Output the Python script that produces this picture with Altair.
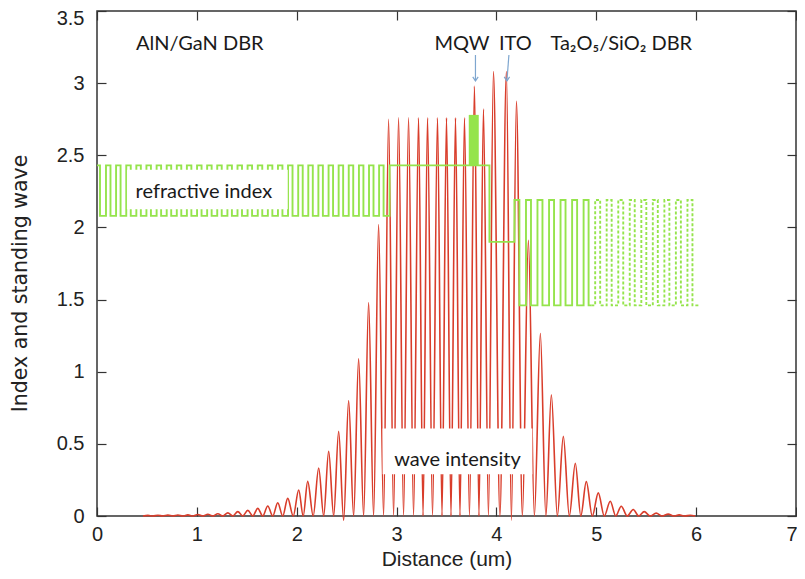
import altair as alt
import pandas as pd

# ---------------- wave intensity (standing wave): peaks / troughs
peak_x = [0.51, 0.61, 0.71, 0.81, 0.91, 1.01, 1.11, 1.21, 1.31, 1.41, 1.51, 1.61, 1.71, 1.81, 1.91,
          2.02, 2.11, 2.22, 2.32, 2.42, 2.52, 2.62, 2.72, 2.82, 2.92,
          3.02, 3.12, 3.22, 3.31, 3.41, 3.50, 3.59, 3.68,
          3.78, 3.87, 3.97, 4.10, 4.20,
          4.32, 4.44, 4.55, 4.67, 4.79, 4.90, 5.02, 5.14, 5.25, 5.37, 5.48, 5.60, 5.72, 5.83, 5.94]
peak_y = [0.004, 0.005, 0.006, 0.007, 0.008, 0.010, 0.012, 0.016, 0.022, 0.030, 0.039, 0.053, 0.069, 0.092, 0.122,
          0.18, 0.24, 0.333, 0.449, 0.587, 0.80, 1.09, 1.48, 2.02, 2.75,
          2.76, 2.76, 2.76, 2.76, 2.76, 2.76, 2.76, 2.76,
          2.98, 2.82, 3.08, 3.08, 2.875,
          1.91, 1.265, 0.84, 0.552, 0.366, 0.238, 0.16, 0.102, 0.068, 0.045, 0.03, 0.02, 0.013, 0.008, 0.005]
trough_x = [0.46, 0.56, 0.66, 0.76, 0.86, 0.96, 1.06, 1.16, 1.26, 1.36, 1.46, 1.56, 1.66, 1.76, 1.86,
            1.965, 2.065, 2.165, 2.27, 2.37, 2.47, 2.57, 2.67, 2.77, 2.87,
            2.97, 3.07, 3.17, 3.265, 3.36, 3.455, 3.545, 3.635,
            3.73, 3.825, 3.92, 4.035, 4.15,
            4.26, 4.38, 4.495, 4.61, 4.73, 4.845, 4.96, 5.08, 5.195, 5.31, 5.425, 5.54, 5.66, 5.775, 5.885, 5.99]
trough_dips = {2.47: -0.03, 4.15: -0.03}

# ---------------- refractive index profile
n_gan, n_aln, n_mqw, n_ito, n_ta, n_sio = 2.43, 2.08, 2.78, 1.90, 2.19, 1.46
first_gan_end = 0.03
gan_starts = [0.090, 0.191, 0.293, 0.394, 0.495, 0.597, 0.698, 0.799, 0.900, 1.002, 1.103, 1.204, 1.306, 1.407,
              1.508, 1.610, 1.711, 1.812, 1.913, 2.015, 2.116, 2.217, 2.319, 2.420, 2.521, 2.623, 2.724, 2.825]
gan_ends = [0.135, 0.236, 0.338, 0.439, 0.540, 0.642, 0.743, 0.844, 0.945, 1.047, 1.148, 1.249, 1.351, 1.452,
            1.553, 1.655, 1.756, 1.857, 1.958, 2.060, 2.161, 2.262, 2.364, 2.465, 2.566, 2.668, 2.769, 2.870]
cavity_start, ito_start, top_dbr_end = 2.93, 3.93, 6.028
ta_starts = [4.180, 4.296, 4.411, 4.527, 4.642, 4.758, 4.873, 4.989, 5.104, 5.220, 5.335, 5.451, 5.566, 5.682, 5.797, 5.913]
ta_ends = [4.230, 4.346, 4.461, 4.577, 4.692, 4.808, 4.923, 5.039, 5.154, 5.270, 5.385, 5.501, 5.616, 5.732, 5.847, 5.963]
mqw_start, mqw_end = 3.723, 3.823
dashed_from = 4.95

x_ticks = [0, 1, 2, 3, 4, 5, 6, 7]
y_ticks = [0, 0.5, 1, 1.5, 2, 2.5, 3, 3.5]

# ---------------- annotations (data coordinates)
labels = ["AlN/GaN DBR", "MQW", "ITO", "Ta\u2082O\u2085/SiO\u2082 DBR", "refractive index", "wave intensity"]
label_x = [1.03, 3.655, 4.19, 5.25, 1.07, 3.61]
label_y = [3.232, 3.232, 3.232, 3.232, 2.204, 0.348]
box_x = [0.30, 2.86]
box_x2 = [1.91, 4.36]
box_y = [2.40, 0.607]
box_y2 = [2.126, 0.29]
arrow_x_top = [3.79, 4.125]
arrow_x_tip = [3.79, 4.105]
arrow_y_top = [3.195, 3.195]
arrow_y_tip = [3.016, 3.016]

RED = "#d93d2b"
GREEN = "#95e44c"
BLUE = "#7ea6cf"
AXC = "#333333"
AXF = "Liberation Sans, Arial, sans-serif"
TXT = "Lato, Open Sans, sans-serif"

# ---------------- tables
wave = pd.DataFrame({
    "x": peak_x + trough_x,
    "y": peak_y + [trough_dips.get(t, 0.0) for t in trough_x],
}).sort_values("x")

pts = [(0.0, n_gan), (first_gan_end, n_aln)]
for s, e in zip(gan_starts, gan_ends):
    pts += [(s, n_gan), (e, n_aln)]
pts += [(cavity_start, n_gan), (ito_start, n_ito)]
for s, e in zip(ta_starts, ta_ends):
    pts += [(s, n_ta), (e, n_sio)]
pts += [(top_dbr_end, n_sio)]
solid = [p for p in pts if p[0] < dashed_from] + [(dashed_from, n_sio)]
dashed = [(dashed_from, n_sio)] + [p for p in pts if p[0] > dashed_from]
idx_solid = pd.DataFrame(solid, columns=["x", "y"])
idx_dashed = pd.DataFrame(dashed, columns=["x", "y"])

mqw = pd.DataFrame({"x": [mqw_start], "x2": [mqw_end], "y": [n_gan], "y2": [n_mqw]})
boxes = pd.DataFrame({"x": box_x, "x2": box_x2, "y": box_y, "y2": box_y2})
texts = pd.DataFrame({"x": label_x, "y": label_y, "t": labels})
arrows = pd.DataFrame({"x": arrow_x_top, "x2": arrow_x_tip, "y": arrow_y_top, "y2": arrow_y_tip})
ticks = pd.DataFrame({"x": x_ticks, "y": y_ticks})

xs = alt.Scale(domain=[0, 7], nice=False, zero=False)
ys = alt.Scale(domain=[0, 3.5], nice=False, zero=False)

x_bottom = alt.Axis(values=x_ticks, orient="bottom", title="Distance (um)", offset=-9, tickSize=9,
                    domain=False, grid=False, labelFlush=False, labelOverlap=False,
                    labelFont=AXF, labelFontSize=20, labelColor="#222", labelPadding=8,
                    labelAlign={"condition": {"test": "datum.value === 7", "value": "right"}, "value": "center"},
                    labelOffset={"condition": {"test": "datum.value === 7", "value": 1}, "value": 0},
                    tickColor=AXC, tickWidth=1.2,
                    titleFont=AXF, titleFontSize=21, titleFontWeight="normal", titleColor="#222",
                    titlePadding=4)
y_left = alt.Axis(values=y_ticks, orient="left", format="~g", title="Index and standing wave", offset=-9,
                  tickSize=9, domain=False, grid=False, labelFlush=False, labelOverlap=False,
                  labelFont=AXF, labelFontSize=20, labelColor="#222", labelPadding=13,
                  labelOffset={"condition": {"test": "datum.value === 3.5", "value": 7}, "value": 0},
                  tickColor=AXC, tickWidth=1.2,
                  titleFont="DejaVu Sans", titleFontSize=20.5, titleFontWeight="normal", titleColor="#222",
                  titlePadding=26, titleY=272)
x_top = alt.Axis(values=x_ticks, orient="top", title=None, labels=False, offset=-9, tickSize=9,
                 domain=False, grid=False, tickColor=AXC, tickWidth=1.2)
y_right = alt.Axis(values=y_ticks, orient="right", title=None, labels=False, offset=-9, tickSize=9,
                   domain=False, grid=False, tickColor=AXC, tickWidth=1.2)


def X(field="x", axis=None):
    return alt.X(f"{field}:Q", scale=xs, axis=axis)


def Y(field="y", axis=None):
    return alt.Y(f"{field}:Q", scale=ys, axis=axis)


red = alt.Chart(wave).mark_line(color=RED, strokeWidth=1.6, interpolate="monotone").encode(
    x=X(axis=x_bottom), y=Y(axis=y_left))
green_solid = alt.Chart(idx_solid).mark_line(color=GREEN, strokeWidth=1.9, interpolate="step-after").encode(
    x=X(), y=Y())
green_dashed = alt.Chart(idx_dashed).mark_line(color=GREEN, strokeWidth=1.9, interpolate="step-after",
                                               strokeDash=[3, 2]).encode(x=X(), y=Y())
mqw_block = alt.Chart(mqw).mark_rect(color=GREEN).encode(x=X(), x2="x2:Q", y=Y(), y2="y2:Q")
white_boxes = alt.Chart(boxes).mark_rect(color="white").encode(x=X(), x2="x2:Q", y=Y(), y2="y2:Q")
text_layer = alt.Chart(texts).mark_text(font=TXT, fontSize=20, color="#1a1a1a", align="center",
                                        baseline="alphabetic").encode(x=X(), y=Y(), text="t:N")
arrow_shafts = alt.Chart(arrows).mark_rule(color=BLUE, strokeWidth=1.2).encode(
    x=X(), x2="x2:Q", y=Y(), y2="y2:Q")
arrow_heads = alt.Chart(arrows).mark_point(shape="M-0.7,-1L0,0L0.7,-1", filled=False, color=BLUE,
                                           strokeWidth=1.2, size=60, opacity=1).encode(
    x=X("x2"), y=Y("y2"))
tick_layer = alt.Chart(ticks).mark_point(opacity=0).encode(x=X(axis=x_top), y=Y(axis=y_right))

chart = alt.layer(
    red, green_solid, green_dashed, mqw_block, white_boxes, text_layer, arrow_shafts, arrow_heads, tick_layer
).resolve_axis(x="independent", y="independent").properties(
    width=699, height=505, autosize="none",
    padding={"left": 89, "top": 3, "right": 1, "bottom": 54},
).configure_view(stroke=AXC, strokeWidth=1.5)

chart.save("out.html", embed_options={"renderer": "svg", "actions": False})
